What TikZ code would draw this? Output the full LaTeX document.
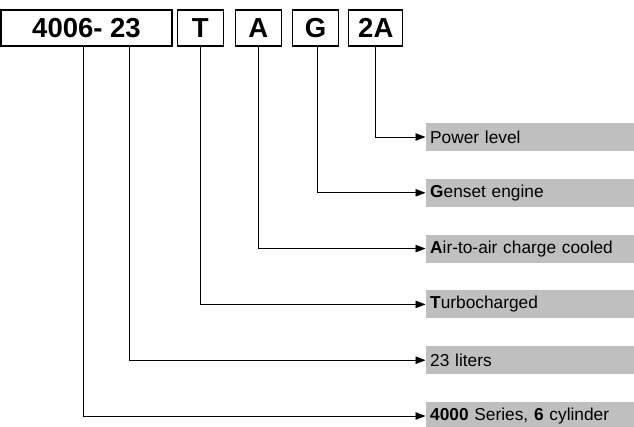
\documentclass[tikz,border=0pt]{standalone}
\usepackage{fontspec}
\setmainfont{Liberation Sans}
\usetikzlibrary{arrows.meta,positioning}
\tikzset{%
	codebox/.style={draw=black, line width=1.2pt, minimum height=36pt, inner sep=0pt, font=\fontsize{27.5}{27.5}\selectfont\bfseries},
	infobar/.style={fill=gray!50, minimum height=28pt, text width=200pt, inner sep=4pt, align=left, anchor=west, font=\fontsize{17.3}{17.3}\selectfont},
	toinfo/.style={draw=black, line width=0.8pt, -{Triangle[length=10pt,width=7.5pt]}, shorten >=0.5pt}}
\begin{document}
\begin{tikzpicture}[x=1pt, y=-1pt, node distance=27.4pt]
		\useasboundingbox (0,0) rectangle (634,426);
		\node[codebox, minimum width=171pt] (code) at (86.5,28) {4006- 23};
		\node[codebox, minimum width=46pt, right=4pt of code] (T) {T};
		\node[codebox, minimum width=46pt, right=11pt of T] (A) {A};
		\node[codebox, minimum width=46pt, right=10pt of A] (G) {G};
		\node[codebox, minimum width=54pt, right=9pt of G] (power) {2A};
		
		\node[infobar] (powerbar) at (426,137) {Power level};
		\node[infobar] (Gbar) [below=of powerbar.south west, anchor=north west] {\textbf{G}enset engine};
		\node[infobar] (Abar) [below=of Gbar.south west, anchor=north west] {\textbf{A}ir-to-air charge cooled};
		\node[infobar] (Tbar) [below=of Abar.south west, anchor=north west] {\textbf{T}urbocharged};
		\node[infobar] (litbar) [below=of Tbar.south west, anchor=north west] {23 liters};
		\node[infobar] (seriesbar) [below=of litbar.south west, anchor=north west] {\textbf{4000} Series, \textbf{6} cylinder};
		
		\path[toinfo] (power.south) |- (powerbar.west);
		\path[toinfo] ([xshift=2pt]G.south) |- (Gbar.west);
		\path[toinfo] (A.south) |- (Abar.west);
		\path[toinfo] (T.south) |- (Tbar.west);
		\path[toinfo] ([xshift=42.5pt]code.south) |- (litbar.west);
		\path[toinfo] ([xshift=-3.5pt]code.south) |- (seriesbar.west);
	\end{tikzpicture}
\end{document}
